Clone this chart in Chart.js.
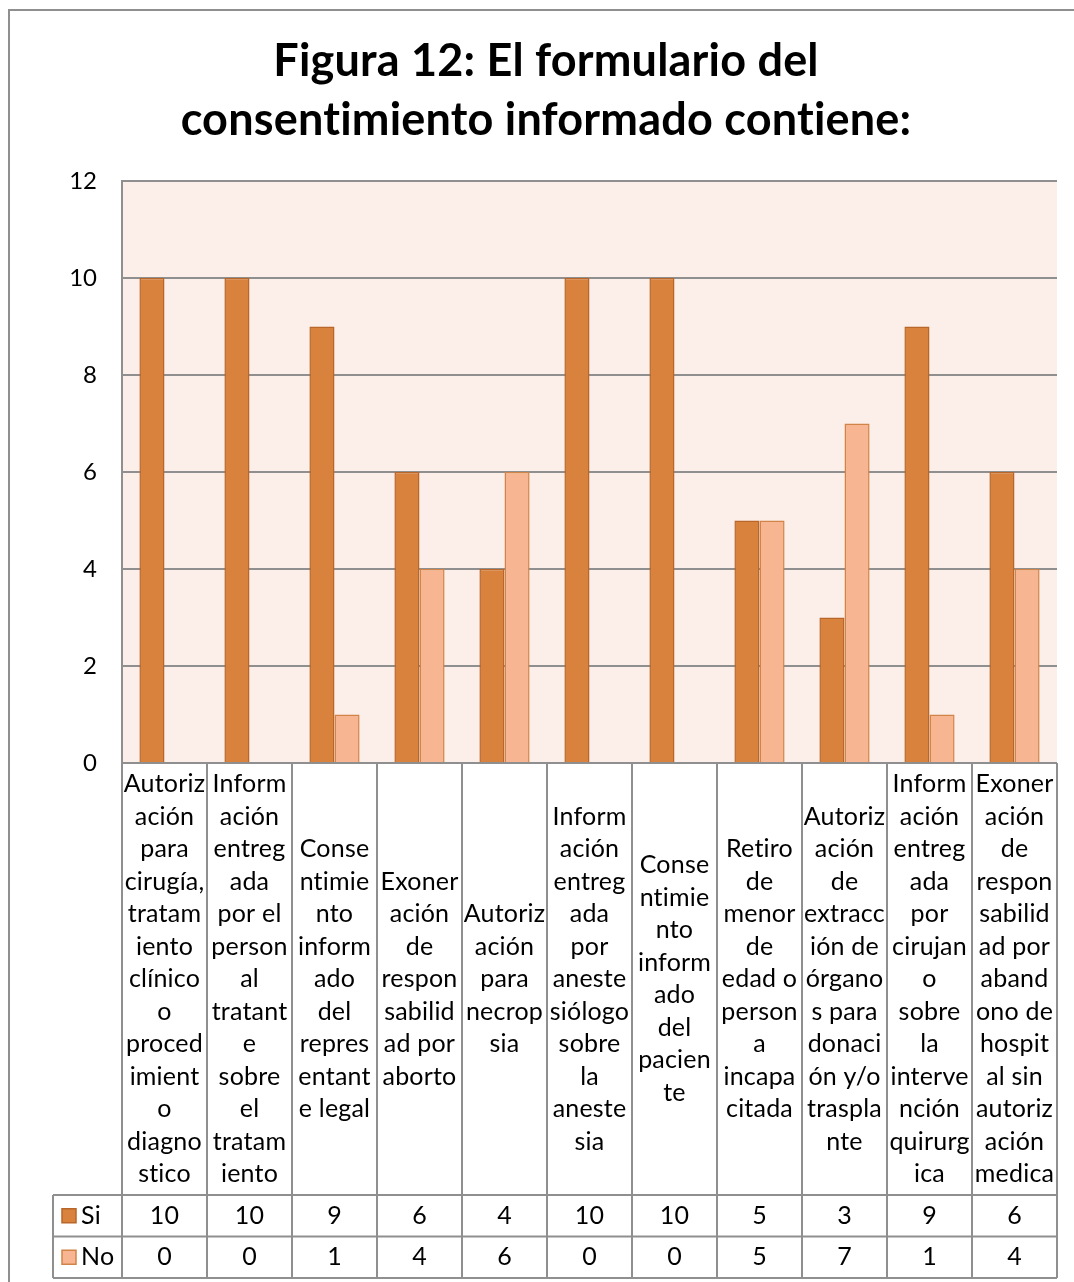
<!DOCTYPE html>
<html>
<head>
<meta charset="utf-8">
<script src="https://cdn.jsdelivr.net/npm/chart.js@4/dist/chart.umd.min.js"></script>
<style>
html,body{margin:0;padding:0;background:#fff;}
canvas{display:block;}
</style>
</head>
<body>
<canvas id="c" width="1074" height="1282"></canvas>
<script>
// ---- data ----
const titleLines = ["Figura 12: El formulario del", "consentimiento informado contiene:"];
const categories = [
  ["Autoriz","ación","para","cirugía,","tratam","iento","clínico","o","proced","imient","o","diagno","stico"],
  ["Inform","ación","entreg","ada","por el","person","al","tratant","e","sobre","el","tratam","iento"],
  ["Conse","ntimie","nto","inform","ado","del","repres","entant","e legal"],
  ["Exoner","ación","de","respon","sabilid","ad por","aborto"],
  ["Autoriz","ación","para","necrop","sia"],
  ["Inform","ación","entreg","ada","por","aneste","siólogo","sobre","la","aneste","sia"],
  ["Conse","ntimie","nto","inform","ado","del","pacien","te"],
  ["Retiro","de","menor","de","edad o","person","a","incapa","citada"],
  ["Autoriz","ación","de","extracc","ión de","órgano","s para","donaci","ón y/o","traspla","nte"],
  ["Inform","ación","entreg","ada","por","cirujan","o","sobre","la","interve","nción","quirurg","ica"],
  ["Exoner","ación","de","respon","sabilid","ad por","aband","ono de","hospit","al sin","autoriz","ación","medica"]
];
const seriesNames = ["Si", "No"];
const siValues = [10, 10, 9, 6, 4, 10, 10, 5, 3, 9, 6];
const noValues = [0, 0, 1, 4, 6, 0, 0, 5, 7, 1, 4];
const yMin = 0, yMax = 12, yStep = 2;

// ---- styles ----
const FONT = "Lato, 'Open Sans', sans-serif";
const siFill = "#D9823D", siBorder = "#B8662A";
const noFill = "#F8B592", noBorder = "#D08447";
const gridColor = "#8f8f8f";
const plotBg = "#FCEEE9";

function noLig(ctx) {
  try { ctx.letterSpacing = "0.2px"; } catch (e) {}
}

const tablePlugin = {
  id: "tablePlugin",
  beforeDraw(chart) {
    const ctx = chart.ctx;
    const a = chart.chartArea;
    ctx.save();
    ctx.fillStyle = "#fff";
    ctx.fillRect(0, 0, chart.width, chart.height);
    ctx.fillStyle = plotBg;
    ctx.fillRect(a.left, a.top, a.right - a.left, a.bottom - a.top);
    // outer frame
    ctx.strokeStyle = gridColor;
    ctx.lineWidth = 2;
    ctx.beginPath();
    ctx.moveTo(9, chart.height);
    ctx.lineTo(9, 10);
    ctx.lineTo(chart.width, 10);
    ctx.stroke();
    // title
    ctx.fillStyle = "#000";
    ctx.font = "bold 45px " + FONT;
    noLig(ctx);
    ctx.textAlign = "center";
    ctx.textBaseline = "middle";
    ctx.fillText(titleLines[0], 546, 61);
    ctx.fillText(titleLines[1], 546, 120);
    ctx.restore();
  },
  afterDraw(chart) {
    const ctx = chart.ctx;
    const a = chart.chartArea;
    const x = chart.scales.x;
    const n = categories.length;
    const catW = (a.right - a.left) / n;
    const labelBottom = a.bottom + 432;
    const rowH = 41.5;
    const tableBottom = labelBottom + 2 * rowH;
    const legendLeft = 53;
    ctx.save();
    ctx.strokeStyle = gridColor;
    ctx.lineWidth = 2;
    ctx.beginPath();
    for (let i = 0; i <= n; i++) {
      const xx = a.left + i * catW;
      ctx.moveTo(xx, a.bottom);
      ctx.lineTo(xx, tableBottom);
    }
    ctx.moveTo(legendLeft, labelBottom);
    ctx.lineTo(legendLeft, tableBottom);
    for (let r = 0; r <= 2; r++) {
      const yy = labelBottom + r * rowH;
      ctx.moveTo(legendLeft, yy);
      ctx.lineTo(a.right, yy);
    }
    ctx.stroke();

    ctx.fillStyle = "#000";
    ctx.textAlign = "center";
    ctx.textBaseline = "middle";
    ctx.font = "25px " + FONT;
    noLig(ctx);
    const lh = 32.5;
    const midY = (a.bottom + labelBottom) / 2;
    categories.forEach((lines, i) => {
      const cx = x.getPixelForValue(i);
      const start = midY - (lines.length - 1) * lh / 2;
      lines.forEach((t, j) => ctx.fillText(t, cx, start + j * lh));
    });
    const rows = [siValues, noValues];
    rows.forEach((vals, r) => {
      const cy = labelBottom + r * rowH + rowH / 2;
      vals.forEach((v, i) => ctx.fillText(String(v), x.getPixelForValue(i), cy));
    });
    // legend keys
    const fills = [siFill, noFill], borders = [siBorder, noBorder];
    ctx.textAlign = "left";
    seriesNames.forEach((name, r) => {
      const cy = labelBottom + r * rowH + rowH / 2;
      ctx.fillStyle = fills[r];
      ctx.fillRect(62, cy - 7, 14, 14);
      ctx.strokeStyle = borders[r];
      ctx.lineWidth = 1.5;
      ctx.strokeRect(62, cy - 7, 14, 14);
      ctx.fillStyle = "#000";
      ctx.fillText(name, 81, cy);
    });
    ctx.restore();
  }
};

new Chart(document.getElementById("c"), {
  type: "bar",
  data: {
    labels: categories,
    datasets: [
      { label: seriesNames[0], data: siValues, backgroundColor: siFill, borderColor: siBorder, borderWidth: 1.5 },
      { label: seriesNames[1], data: noValues, backgroundColor: noFill, borderColor: noBorder, borderWidth: 1.5 }
    ]
  },
  options: {
    responsive: false,
    animation: false,
    devicePixelRatio: 1,
    categoryPercentage: 0.59,
    barPercentage: 1,
    layout: { padding: { top: 181, left: 0, right: 17, bottom: 519 } },
    plugins: { legend: { display: false }, title: { display: false }, tooltip: { enabled: false } },
    scales: {
      x: { display: false },
      y: {
        min: yMin, max: yMax,
        ticks: { stepSize: yStep, padding: 25, color: "#000", font: { family: FONT, size: 24 } },
        grid: { color: gridColor, lineWidth: 2, drawTicks: false },
        border: { display: true, color: gridColor, width: 2 },
        afterFit(s) { s.width = 122; }
      }
    }
  },
  plugins: [tablePlugin]
});
</script>
</body>
</html>
